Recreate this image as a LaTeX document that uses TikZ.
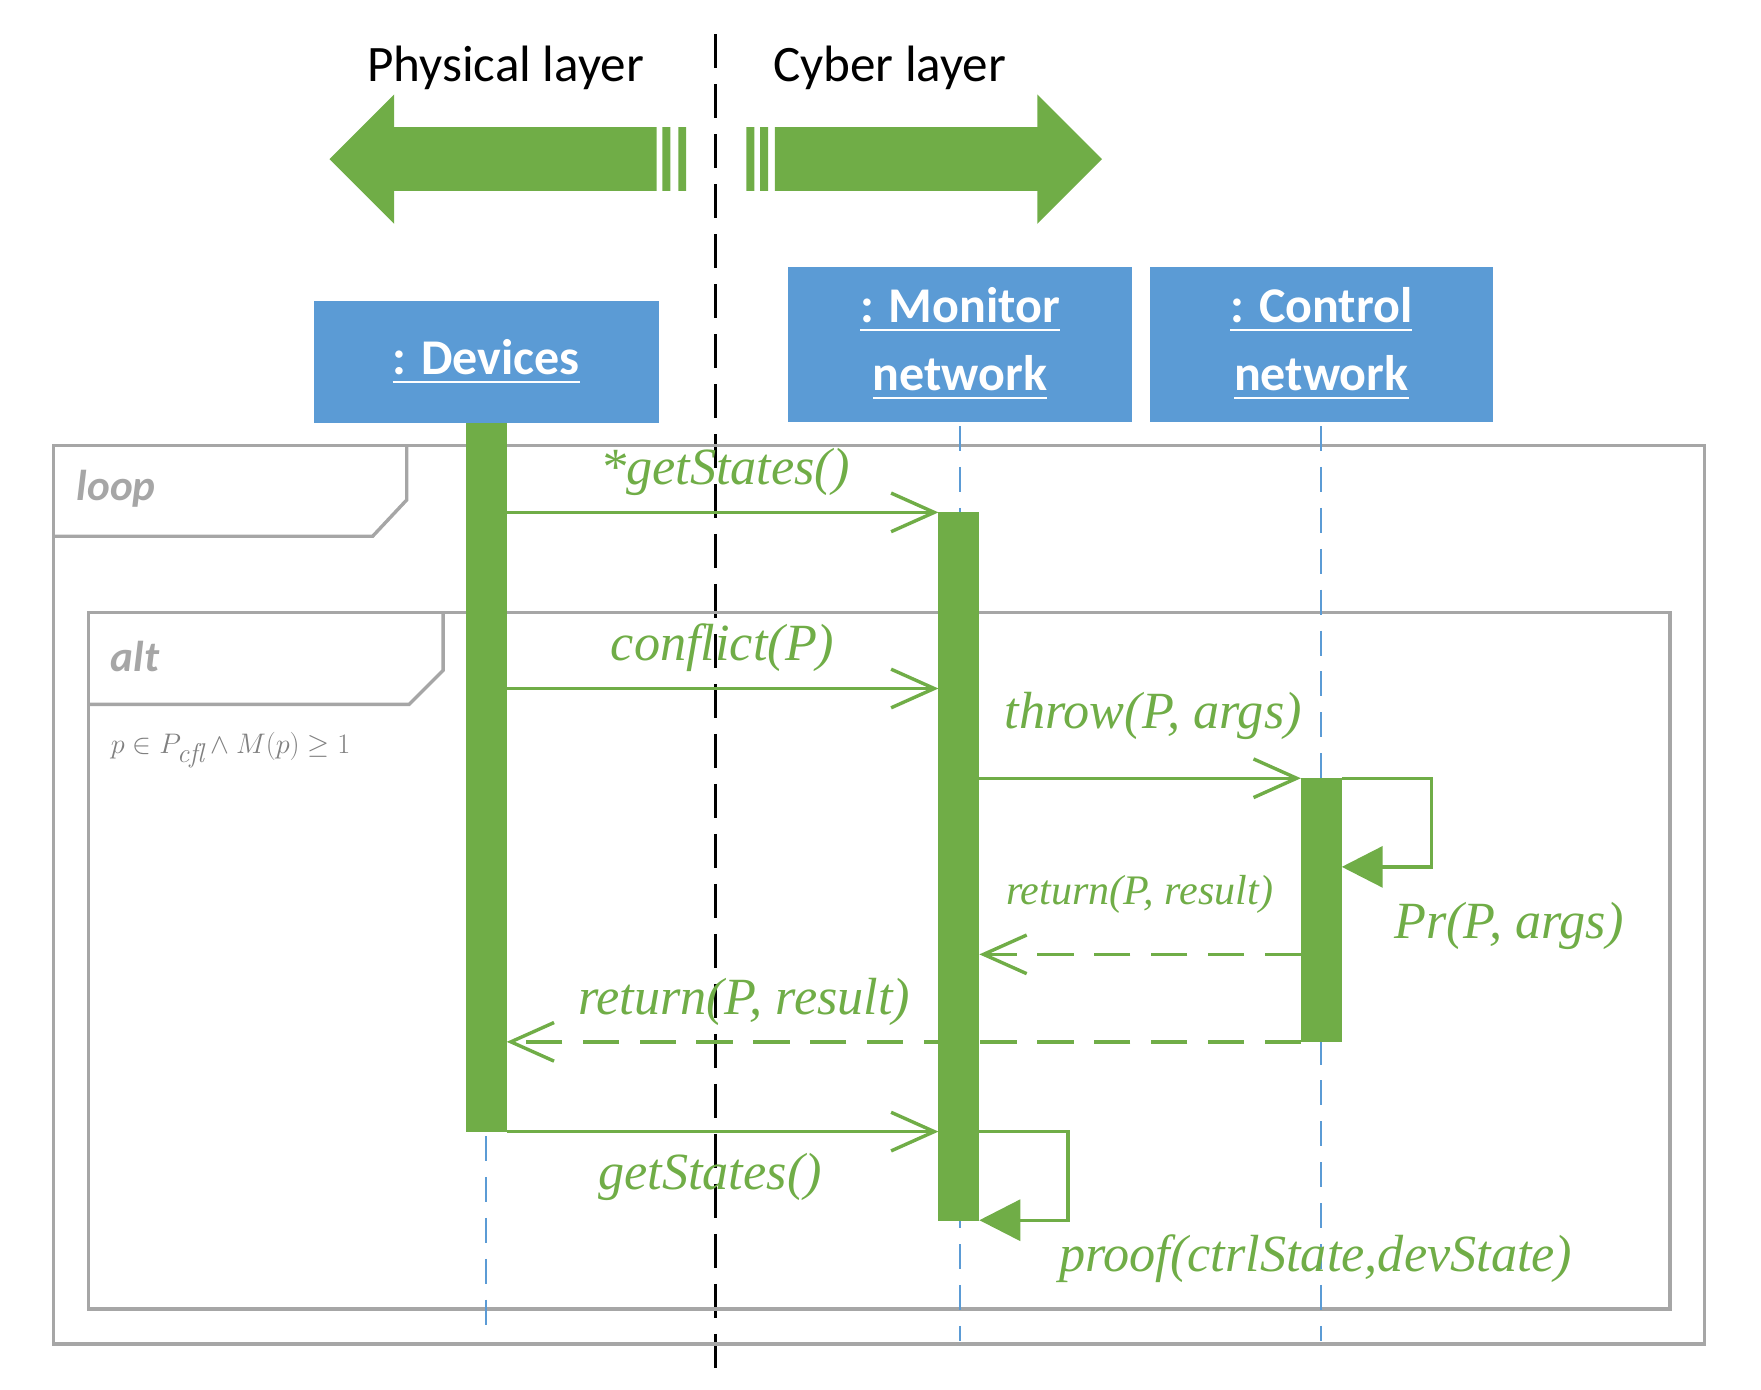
\documentclass[tikz,border=0pt]{standalone}
\usepackage{fontspec}
\usepackage{amssymb}
\newfontfamily\serfont{Liberation Serif}
\newfontfamily\calfont{Carlito}
\usetikzlibrary{arrows.meta}
\definecolor{grn}{HTML}{70AD47}
\definecolor{blu}{HTML}{5B9BD5}
\definecolor{gry}{HTML}{A6A6A6}
\definecolor{ggry}{HTML}{808080}
\begin{document}
\begin{tikzpicture}[x=1pt,y=-1pt,
 box/.style={fill=blu,draw=none,text=white,font=\calfont\bfseries\fontsize{44}{60}\selectfont,align=center},
 act/.style={fill=grn,draw=none},
 msg/.style={grn,line width=3pt,-{Straight Barb[length=38pt,width=34pt,line width=3pt]}},
 ret/.style={msg,dash pattern=on 32pt off 18pt},
 self/.style={grn,line width=3pt,-{Triangle[length=36pt,width=36pt]}},
 lbl/.style={text=grn,font=\serfont\itshape\fontsize{46}{52}\selectfont,inner sep=0},
 life/.style={blu,line width=2pt,dash pattern=on 22pt off 14pt},
 frm/.style={gry,line width=3pt}]
\useasboundingbox (0,0) rectangle (1550,1223);
% layer arrows
\fill[grn] (290,140)--(347,83)--(347,112)--(578,112)--(578,168)--(347,168)--(347,197)--cycle;
\fill[grn] (583,112) rectangle (590,168) (597,112) rectangle (604,168);
\fill[grn] (970,140)--(913,83)--(913,112)--(682,112)--(682,168)--(913,168)--(913,197)--cycle;
\fill[grn] (657,112) rectangle (664,168) (669,112) rectangle (676,168);
\node[font=\calfont\fontsize{45}{50}\selectfont] (pl) at (445,60) {Physical layer};
\node[font=\calfont\fontsize{45}{50}\selectfont] (cl) at (783,60) {Cyber layer};
\draw[black,line width=2.5pt,dash pattern=on 30pt off 14pt] (630,30)--(630,1205);
% frames
\draw[frm] (47,392) rectangle (1500,1183);
\draw[frm] (47,472)--(328,472)--(358,440)--(358,392);
\node[text=gry,font=\calfont\bfseries\itshape\fontsize{38}{42}\selectfont,anchor=west] (lp) at (64,430) {loop};
\draw[frm] (78,539) rectangle (1470,1152);
\draw[frm] (78,620)--(360,620)--(390,590)--(390,539);
\node[text=gry,font=\calfont\bfseries\itshape\fontsize{38}{42}\selectfont,anchor=west] (al) at (94,578) {alt};
\node[text=ggry,font=\fontsize{34}{40}\selectfont,anchor=west] (gd) at (94,660) {$p\in P_{\mathit{cfl}}\wedge M(p)\geq 1$};
% boxes
\node[box,minimum width=304pt,minimum height=107pt] (dev) at (428,318.5) {\underline{: Devices}};
\node[box,minimum width=302pt,minimum height=136pt] (mon) at (845,303) {\underline{: Monitor}\\\underline{network}};
\node[box,minimum width=302pt,minimum height=136pt] (ctl) at (1163,303) {\underline{: Control}\\\underline{network}};
% lifelines
\coordinate (d0) at (428,1000); \coordinate (d1) at (428,1180);
\coordinate (m0) at (845,375); \coordinate (m1) at (845,1180);
\coordinate (c0) at (1163,375); \coordinate (c1) at (1163,1180);
\draw[life] (d0)--(d1); \draw[life] (m0)--(m1); \draw[life] (c0)--(c1);
% activations
\fill[act] (410,372) rectangle (446,996);
\fill[act] (826,451) rectangle (862,1075);
\fill[act] (1145,685) rectangle (1181,917);
% messages
\draw[msg] (446,451)--(826,451);
\node[lbl] (l1) at (638,415) {*getStates()};
\draw[msg] (446,606)--(826,606);
\node[lbl] (l2) at (636,570) {conflict(P)};
\draw[msg] (862,685)--(1145,685);
\node[lbl] (l3) at (1015,630) {throw(P, args)};
\draw[self] (1181,685)--(1260,685)--(1260,763)--(1181,763);
\node[lbl] (l4) at (1328,815) {Pr(P, args)};
\draw[ret] (1145,840)--(862,840);
\node[lbl,font=\serfont\itshape\fontsize{37}{42}\selectfont] (l5) at (1003,787) {return(P, result)};
\draw[ret] (1145,917)--(446,917);
\node[lbl] (l6) at (655,882) {return(P, result)};
\draw[msg] (446,996)--(826,996);
\node[lbl] (l7) at (625,1036) {getStates()};
\draw[self] (862,996)--(940,996)--(940,1074)--(862,1074);
\node[lbl] (l8) at (1158,1108) {proof(ctrlState,devState)};
\end{tikzpicture}
\end{document}
